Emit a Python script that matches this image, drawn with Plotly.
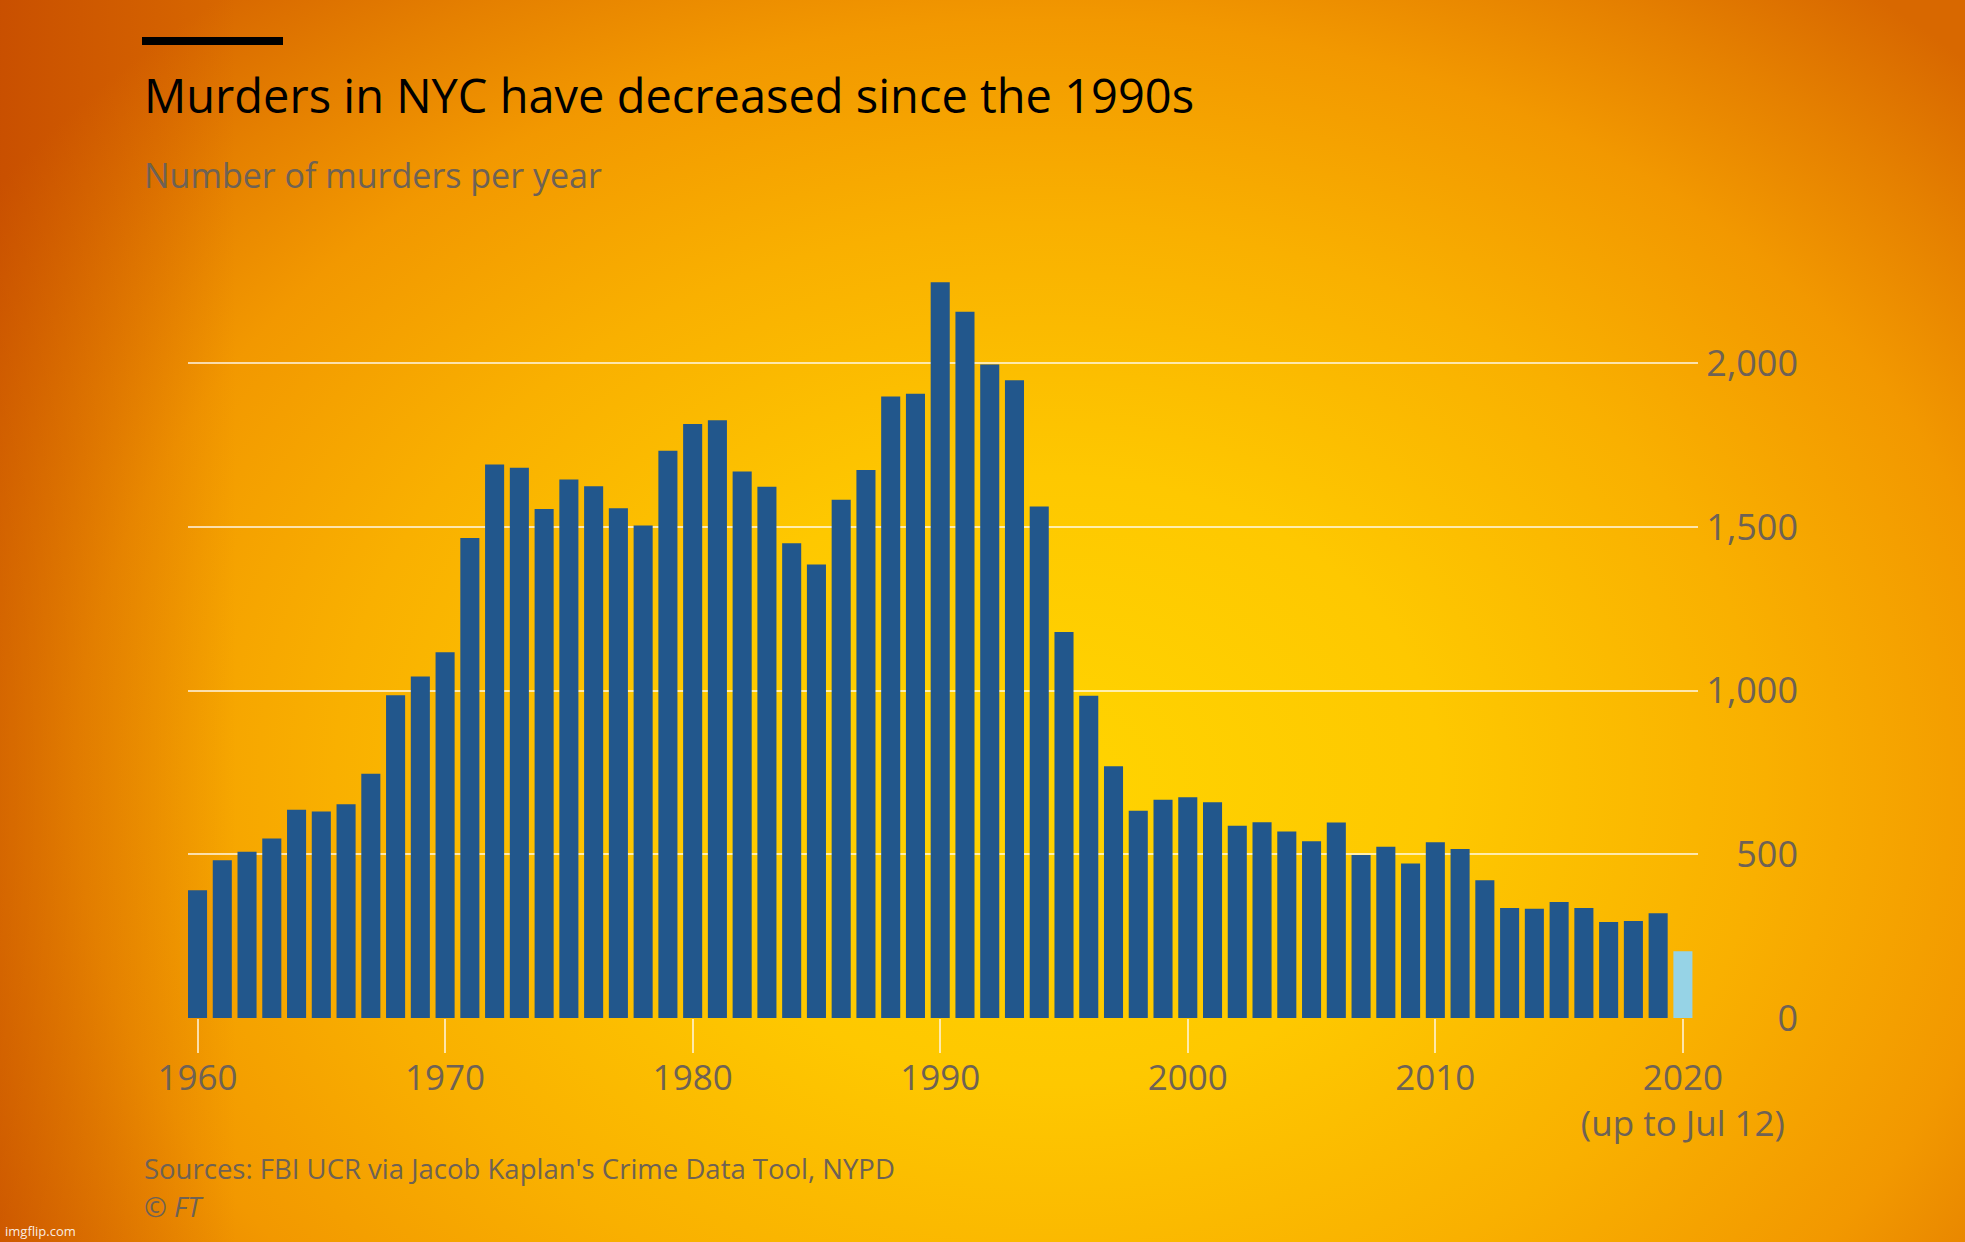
import base64
import plotly.graph_objects as go

years = list(range(1960, 2021))
murders = [390, 482, 508, 548, 636, 631, 653, 746, 986, 1043,
           1117, 1466, 1691, 1681, 1555, 1645, 1624, 1557, 1504, 1733,
           1814, 1826, 1669, 1623, 1450, 1385, 1583, 1674, 1898, 1907,
           2247, 2157, 1996, 1948, 1562, 1179, 984, 769, 633, 667,
           674, 659, 587, 598, 570, 540, 597, 498, 523, 472,
           537, 516, 421, 336, 334, 354, 336, 293, 296, 320,
           204]
partial_year = 2020
x_tickvals = [1960, 1970, 1980, 1990, 2000, 2010, 2020]
x_ticktext = ["1960", "1970", "1980", "1990", "2000", "2010", "2020<br>(up to Jul 12)"]
y_tickvals = [0, 500, 1000, 1500, 2000]

title = "Murders in NYC have decreased since the 1990s"
subtitle = "Number of murders per year"
source = "Sources: FBI UCR via Jacob Kaplan's Crime Data Tool, NYPD"

W, H = 1965, 1242
L, R_EDGE = 188, 1798
T, B_EDGE = 265, 1018
PW = R_EDGE - L
PH = B_EDGE - T


def px(x):
    return (x - L) / PW


def py(y):
    return (B_EDGE - y) / PH


DARK = "#22578c"
LIGHT = "#96d3e6"
GREY = "#6e6255"
FONT = "Open Sans"

colors = [LIGHT if y == partial_year else DARK for y in years]

svg = f'''<svg xmlns="http://www.w3.org/2000/svg" width="{W}" height="{H}" viewBox="0 0 {W} {H}" preserveAspectRatio="none">
<defs>
<radialGradient id="g" gradientUnits="userSpaceOnUse" cx="1050" cy="780" r="1300"
 gradientTransform="translate(1050 780) scale(1 0.78) translate(-1050 -780)">
<stop offset="0" stop-color="#ffd400"/>
<stop offset="0.3" stop-color="#fec800"/>
<stop offset="0.55" stop-color="#f9b000"/>
<stop offset="0.75" stop-color="#f29800"/>
<stop offset="0.88" stop-color="#e58000"/>
<stop offset="1" stop-color="#d86800"/>
</radialGradient>
<linearGradient id="l" x1="0" y1="0" x2="1" y2="0">
<stop offset="0" stop-color="#b02800" stop-opacity="0.38"/>
<stop offset="0.12" stop-color="#b02800" stop-opacity="0"/>
</linearGradient>
</defs>
<rect width="{W}" height="{H}" fill="url(#g)"/>
<rect width="{W}" height="{H}" fill="url(#l)"/>
</svg>'''
bg_src = "data:image/svg+xml;base64," + base64.b64encode(svg.encode()).decode()

fig = go.Figure()
fig.add_trace(go.Bar(
    x=years, y=murders, marker=dict(color=colors, line=dict(width=0)),
    hoverinfo="skip", showlegend=False,
))

fig.update_layout(
    width=W, height=H,
    margin=dict(l=L, r=W - R_EDGE, t=T, b=H - B_EDGE, pad=0),
    paper_bgcolor="#f5a300",
    plot_bgcolor="rgba(0,0,0,0)",
    bargap=0.23,
    font=dict(family=FONT, color=GREY),
    images=[dict(
        source=bg_src, xref="paper", yref="paper",
        x=px(0), y=py(0), sizex=W / PW, sizey=H / PH,
        xanchor="left", yanchor="top", sizing="stretch", layer="below",
    )],
    xaxis=dict(
        domain=[0, px(1698)], range=[1959.615, 2020.61],
        tickvals=x_tickvals, ticktext=x_ticktext,
        ticks="outside", ticklen=34, tickwidth=2,
        tickcolor="rgba(255,245,225,0.75)",
        ticklabelstandoff=-5,
        tickfont=dict(size=35, color=GREY, family=FONT),
        showgrid=False, zeroline=False, showline=False,
    ),
    yaxis=dict(
        anchor="free", position=1.0, side="left",
        range=[0, 2300], tickvals=y_tickvals, tickformat=",",
        ticks="", showgrid=True, gridcolor="rgba(255,255,255,0.68)", gridwidth=2,
        tickfont=dict(size=36, color=GREY, family=FONT),
        zeroline=False, showline=False,
    ),
    shapes=[dict(
        type="rect", xref="paper", yref="paper",
        x0=px(142), x1=px(283), y0=py(45), y1=py(37),
        fillcolor="#000000", line=dict(width=0),
    )],
)

ann = [
    dict(text=title, x=px(142), y=py(95), font=dict(size=47, color="#000000", family=FONT)),
    dict(text=subtitle, x=px(142), y=py(175), font=dict(size=34, color=GREY, family=FONT)),
    dict(text=source, x=px(142), y=py(1168), font=dict(size=27.5, color=GREY, family=FONT)),
    dict(text="<i>© FT</i>", x=px(142), y=py(1206), font=dict(size=27.5, color=GREY, family=FONT)),
    dict(text="imgflip.com", x=px(3), y=py(1231), font=dict(size=13, color="rgba(255,255,255,0.9)", family=FONT)),
]
for a in ann:
    fig.add_annotation(xref="paper", yref="paper", xanchor="left", yanchor="middle",
                       showarrow=False, **a)

fig.write_html("out.html", config={"displayModeBar": False},
               post_script="document.body.style.margin='0';")
